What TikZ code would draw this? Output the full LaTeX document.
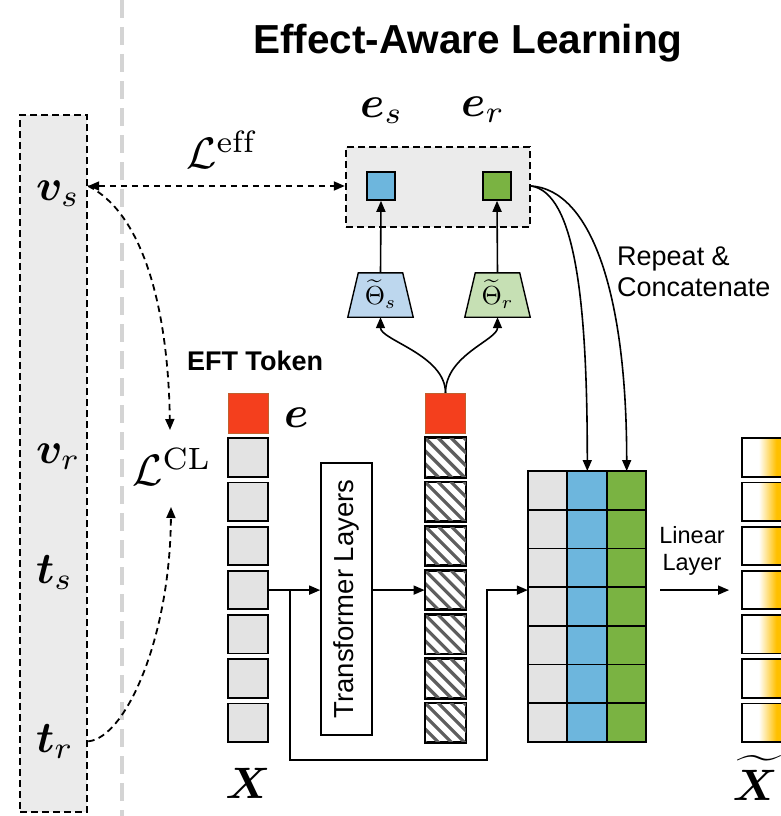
\documentclass[tikz,border=0pt]{standalone}
\usepackage{amsmath,bm}
\usepackage{fontspec}
\setsansfont{Liberation Sans}
\usetikzlibrary{arrows.meta}

\definecolor{panelgray}{HTML}{EBEBEB}
\definecolor{cellgray}{HTML}{E3E3E3}
\definecolor{sblue}{HTML}{6DB6DD}
\definecolor{rgreen}{HTML}{7AB342}
\definecolor{tblue}{HTML}{BDD7EE}
\definecolor{tgreen}{HTML}{C6E0B4}
\definecolor{eftred}{HTML}{F43F1D}
\definecolor{eftedge}{HTML}{C0602E}
\definecolor{hatchgray}{HTML}{5E5E5E}
\definecolor{sepgray}{HTML}{D4D4D4}
\definecolor{tokgold}{HTML}{FFC000}

% white-to-gold fade for the output tokens
\pgfdeclarehorizontalshading{tokfade}{100bp}{color(0bp)=(white); color(44bp)=(white); color(64bp)=(tokgold); color(100bp)=(tokgold)}

% large math symbols, scaled up from the 10pt math fonts
\newcommand{\bigsym}[1]{\scalebox{4.4}{$#1$}}
\newcommand{\headsym}[1]{\scalebox{2.6}{$#1$}}

\begin{document}
\begin{tikzpicture}[x=1pt,y=-1pt,
  >={Triangle[length=11pt,width=9pt]},
  every node/.style={inner sep=0pt},
  tok/.style={draw=black, line width=1.8pt, minimum width=40pt, minimum height=38.5pt, fill=cellgray},
  eft/.style={draw=eftedge, line width=0.8pt, fill=eftred, minimum width=40pt, minimum height=40pt},
  emb/.style={draw=black, line width=1.6pt, minimum size=28pt},
  headbox/.style={minimum width=65pt, minimum height=44pt},
  headline/.style={draw=black, line width=1.4pt},
  panel/.style={draw=black, line width=2.4pt, dash pattern=on 7pt off 4pt, fill=panelgray},
  arr/.style={line width=1.6pt, ->},
  darr/.style={line width=1.8pt, dash pattern=on 6.5pt off 4.5pt},
  hatch/.style={draw=hatchgray, line width=3.2pt},
  sepline/.style={draw=sepgray, line width=4pt, dash pattern=on 18pt off 9pt}]
\useasboundingbox (0,0) rectangle (781,816);

% separator between the two stages
\draw[sepline] (122,0) -- (122,816);

% left panel with the pooled features
\node[panel, minimum width=67pt, minimum height=697pt] (lpanel) at (53.5,463.5) {};
\node[anchor=base west] (vs) at (36,200) {\bigsym{\bm{v}_{s}}};
\node[anchor=base west] (vr) at (36,463) {\bigsym{\bm{v}_{r}}};
\node[anchor=base west] (ts) at (36,583) {\bigsym{\bm{t}_{s}}};
\node[anchor=base west] (tr) at (36,752) {\bigsym{\bm{t}_{r}}};

% titles
\node[font=\sffamily\bfseries\fontsize{40.5}{48}\selectfont, anchor=base] (title) at (468,53) {Effect-Aware Learning};
\node[font=\sffamily\bfseries\fontsize{27}{32}\selectfont, anchor=base] (eftlab) at (255,370) {EFT Token};

% losses
\node[anchor=base west] (leff) at (186,168) {\bigsym{\mathcal{L}^{\mathrm{eff}}}};
\node[anchor=base west] (lcl) at (132,485) {\bigsym{\mathcal{L}^{\mathrm{CL}}}};
\coordinate (clTop) at (170,430);
\coordinate (clBot) at (171,507);

% effect embeddings
\node[panel, minimum width=184pt, minimum height=80pt] (effbox) at (438,187) {};
\node[emb, fill=sblue] (es) at (381,186) {};
\node[emb, fill=rgreen] (er) at (497,186) {};
\node[anchor=base west] (eslab) at (360,117) {\bigsym{\bm{e}_{s}}};
\node[anchor=base west] (erlab) at (461,116) {\bigsym{\bm{e}_{r}}};

% projection heads (trapezoids)
\node[headbox] (hs) at (380.5,295) {};
\node[headbox] (hr) at (497.5,295) {};
\draw[headline, fill=tblue] ([xshift=10.5pt]hs.north west) -- ([xshift=-10.5pt]hs.north east)
  -- (hs.south east) -- (hs.south west) -- cycle;
\draw[headline, fill=tgreen] ([xshift=10.5pt]hr.north west) -- ([xshift=-10.5pt]hr.north east)
  -- (hr.south east) -- (hr.south west) -- cycle;
\node (hslab) at ([yshift=1pt]hs.center) {\headsym{\widetilde{\Theta}_{s}}};
\node (hrlab) at ([yshift=1pt]hr.center) {\headsym{\widetilde{\Theta}_{r}}};

% token columns
\foreach \k in {1,...,7} {
  \pgfmathsetmacro\yy{457.5+44.2*(\k-1)}
  \node[tok] (x\k) at (248,\yy) {};
  \node[tok, fill=white] (h\k) at (445.5,\yy) {};
  \node[tok, fill=none, shade, shading=tokfade, minimum width=44pt] (xt\k) at (764,\yy) {};
}
\foreach \k in {1,...,7} {
  \begin{scope}
    \clip (h\k.south west) rectangle (h\k.north east);
    \foreach \s in {-52,-39,...,52}
      \draw[hatch] ([xshift=\s pt]h\k.north west) -- ++(50,50);
  \end{scope}
  \draw[line width=1.8pt] (h\k.south west) rectangle (h\k.north east);
}
\node[eft] (e0) at (248,413.3) {};
\node[eft] (eo) at (445.5,413.3) {};
\node[anchor=base west] (elab) at (284,427) {\bigsym{\bm{e}}};
\node[anchor=base] (xlab) at (248,798) {\bigsym{\bm{X}}};
\node[anchor=base east] (xtlab) at (778,800) {\bigsym{\widetilde{\bm{X}}}};

% transformer
\node[draw, line width=1.6pt, minimum width=51pt, minimum height=272pt] (tl) at (346.5,599) {};
\node[rotate=90, font=\sffamily\fontsize{27.5}{32}\selectfont] (tltext) at (tl.center) {Transformer Layers};

% concatenated tokens
\node[minimum width=118pt, minimum height=271pt] (cat) at (587,606.5) {};
\foreach \c/\col in {0/cellgray,1/sblue,2/rgreen}
  \foreach \r in {0,...,6}
    \draw[line width=1.8pt, fill=\col] ({528+39.33*\c},{471+38.71*\r}) rectangle ++(39.33,38.71);
\coordinate (catb) at (587.3,471);
\coordinate (catg) at (626.7,471);

% labels
\node[font=\sffamily\fontsize{27}{31}\selectfont, anchor=base west, align=left] (replab) at (617,296) {Repeat \&\\Concatenate};
\node[font=\sffamily\fontsize{23.5}{27}\selectfont, anchor=base, align=center] (linlab) at (692,570) {Linear\\Layer};

% solid connectors
\draw[arr] (hs.north) -- (es.south);
\draw[arr] (hr.north) -- (er.south);
\draw[arr] (eo.north) .. controls (445.5,355) and (380.5,340) .. (hs.south);
\draw[arr] (eo.north) .. controls (445.5,355) and (497.5,340) .. (hr.south);
\draw[arr] (effbox.east |- er) .. controls (575,193) and (587.3,300) .. (catb);
\draw[arr] (effbox.east |- er) .. controls (590,190) and (626.7,290) .. (catg);
\draw[arr] (x4.east) -- (tl.west |- x4.east);
\draw[arr] (tl.east |- h4.west) -- (h4.west);
\draw[arr] ([xshift=21pt]x4.east) -- ++(0,170) -| ([xshift=-41pt]cat.west |- x4.east) -- (cat.west |- x4.east);
\draw[arr] ([xshift=14pt]cat.east |- xt4.west) -- ([xshift=-12pt]xt4.west);

% dashed loss connectors
\draw[darr, <->] (lpanel.east |- es) -- (effbox.west |- es);
\draw[darr, ->] (lpanel.east |- es) .. controls (140,212) and (168,300) .. (clTop);
\draw[darr, ->] (lpanel.east |- tr) .. controls (125,738) and (170,640) .. (clBot);
\end{tikzpicture}
\end{document}
